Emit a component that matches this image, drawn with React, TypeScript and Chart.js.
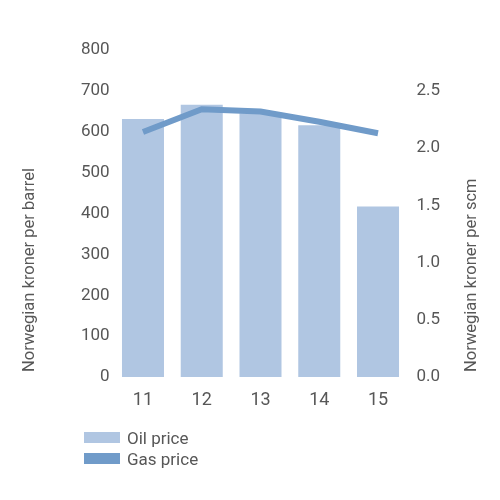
import { useEffect, useRef } from 'react';
import { Chart, registerables } from 'chart.js';

Chart.register(...registerables);

const years = ['11', '12', '13', '14', '15'];
const oilPrice = [631, 666, 645, 616, 417];
const gasPrice = [2.14, 2.34, 2.32, 2.23, 2.13];
const leftTitle = 'Norwegian kroner per barrel';
const rightTitle = 'Norwegian kroner per scm';

const FONT = 'Roboto, "DejaVu Sans", sans-serif';
const TEXT = '#575757';
const OIL = '#b0c6e2';
const GAS = '#709bc9';

// both axis titles read bottom-to-top and sit at the bottom of the axis
const axisTitles = {
  id: 'axisTitles',
  afterDraw(chart: Chart) {
    const { ctx, chartArea } = chart;
    ctx.save();
    ctx.font = `16.5px ${FONT}`;
    ctx.fillStyle = TEXT;
    ctx.textAlign = 'left';
    ctx.textBaseline = 'middle';
    const put = (x: number, s: string) => {
      ctx.save();
      ctx.translate(x, chartArea.bottom - 5);
      ctx.rotate(-Math.PI / 2);
      ctx.fillText(s, 0, 0);
      ctx.restore();
    };
    put(30, leftTitle);
    put(472, rightTitle);
    ctx.restore();
  },
};

export default function App() {
  const canvasRef = useRef<HTMLCanvasElement>(null);

  useEffect(() => {
    if (!canvasRef.current) return;
    const ctx = canvasRef.current.getContext('2d');
    if (!ctx) return;

    const tickFont = { family: FONT, size: 17 };

    const chart = new Chart(ctx, {
      type: 'bar',
      data: {
        labels: years,
        datasets: [
          {
            type: 'line',
            label: 'Gas price',
            data: gasPrice,
            yAxisID: 'y1',
            borderColor: GAS,
            borderWidth: 6,
            pointRadius: 0,
            tension: 0,
            order: 0,
          },
          {
            type: 'bar',
            label: 'Oil price',
            data: oilPrice,
            yAxisID: 'y',
            backgroundColor: OIL,
            barPercentage: 0.715,
            categoryPercentage: 1,
            order: 1,
          },
        ],
      },
      options: {
        responsive: false,
        animation: false,
        layout: { padding: { top: 50, left: 0, right: 0, bottom: 0 } },
        plugins: { legend: { display: false }, tooltip: { enabled: false } },
        scales: {
          x: {
            grid: { display: false, drawTicks: false },
            border: { display: false },
            ticks: { font: { family: FONT, size: 18 }, color: TEXT, padding: 13 },
            afterFit: (s: any) => { s.height = 123; },
          },
          y: {
            position: 'left',
            min: 0,
            max: 800,
            grid: { display: false, drawTicks: false },
            border: { display: false },
            ticks: { stepSize: 100, font: tickFont, color: TEXT, padding: 4 },
            afterFit: (s: any) => { s.width = 113.6; },
          },
          y1: {
            position: 'right',
            min: 0,
            max: 2.857,
            grid: { display: false, drawTicks: false },
            border: { display: false },
            ticks: {
              stepSize: 0.5,
              font: tickFont,
              color: TEXT,
              padding: 9,
              callback: (v: any) => Number(v).toFixed(1),
            },
            afterBuildTicks: (s: any) => {
              s.ticks = s.ticks.filter((t: any) => t.value <= 2.5 + 1e-9);
            },
            afterFit: (s: any) => { s.width = 92.6; },
          },
        },
      },
      plugins: [axisTitles],
    });

    return () => chart.destroy();
  }, []);

  const legend = [
    { label: 'Oil price', color: OIL },
    { label: 'Gas price', color: GAS },
  ];

  return (
    <div style={{ position: 'absolute', left: 0, top: 0, width: 500, height: 500, background: '#fff' }}>
      <canvas ref={canvasRef} width={500} height={500} style={{ display: 'block' }} />
      <div style={{ position: 'absolute', left: 84, top: 427, fontFamily: FONT, fontSize: 17, color: TEXT }}>
        {legend.map((l) => (
          <div key={l.label} style={{ display: 'flex', alignItems: 'center', height: 21 }}>
            <span style={{ width: 36, height: 11, background: l.color, marginRight: 7 }} />
            <span>{l.label}</span>
          </div>
        ))}
      </div>
    </div>
  );
}
